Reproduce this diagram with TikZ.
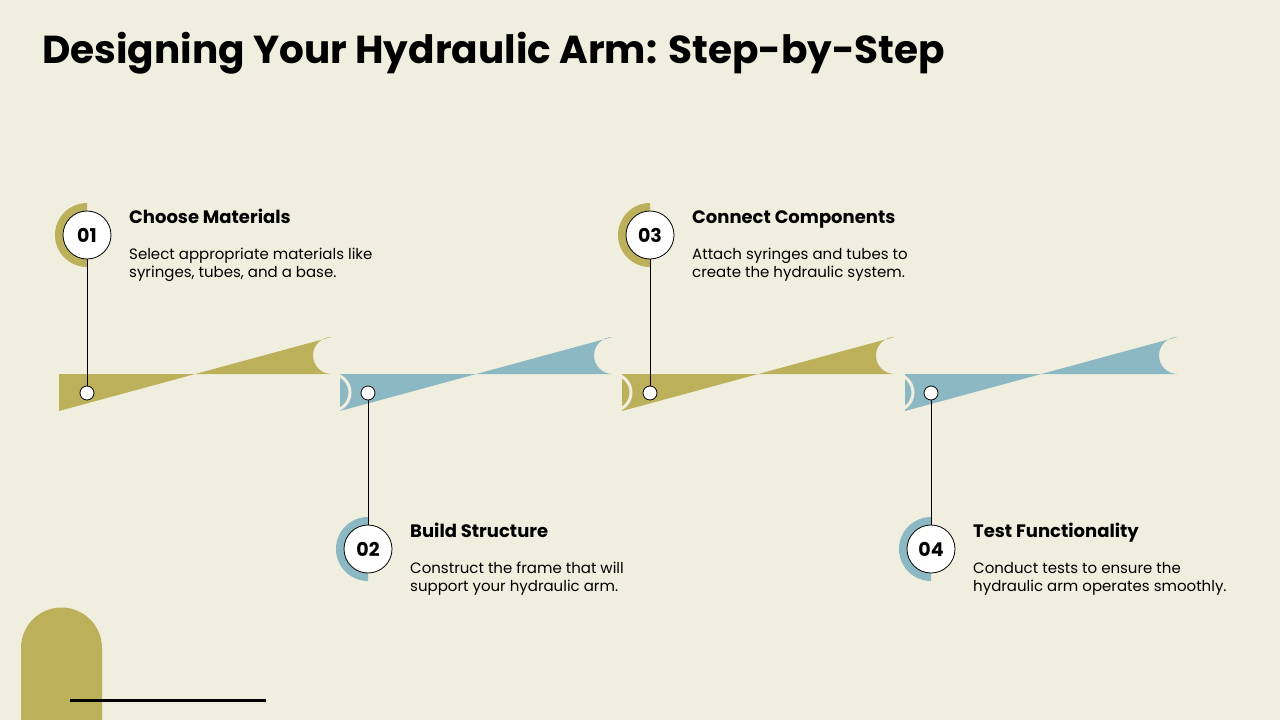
\documentclass[tikz,border=0pt]{standalone}
\usepackage{fontspec}
\setmainfont{Poppins}
\usetikzlibrary{calc, positioning}
\definecolor{cream}{HTML}{F0EEDF}
\definecolor{olive}{HTML}{BDB05B}
\definecolor{teal}{HTML}{8BB8C2}
\tikzset{
  dot/.style={circle, draw, fill=white, line width=0.8pt, minimum size=14pt, inner sep=0pt},
  badge/.style={circle, draw, fill=white, line width=0.8pt, minimum size=48pt, inner sep=0pt, font=\fontsize{19}{19}\selectfont\bfseries},
  heading/.style={anchor=base west, inner sep=0pt, font=\fontsize{18}{18}\selectfont\bfseries},
  blurb/.style={anchor=north west, inner sep=0pt, align=left, font=\fontsize{15}{18}\selectfont}
}
\begin{document}
\begin{tikzpicture}[x=1pt, y=-1pt]
      \fill[cream] (0,0) rectangle (1280,720);
      \useasboundingbox (0,0) rectangle (1280,720);
      \node[anchor=west, inner sep=0pt, font=\fontsize{39}{39}\selectfont\bfseries] (Title) at (42,53) {Designing Your Hydraulic Arm: Step-by-Step};

      % bar segments, drawn right to left so each rounded end overlaps the next
      \foreach \i/\xa/\col in {4/905/teal, 3/622/olive, 2/340/teal, 1/59/olive} {
        \fill[\col] (\xa,374) -- (\xa+272.5,374) arc (-90:90:-18.5) -- (\xa,411) -- cycle;
        \draw[cream, line width=3pt] (\xa+272.5,411) arc (90:-90:18.5);
      }

      \foreach \i/\x/\y/\col/\head/\lineA/\lineB in {
          1/87/235/olive/Choose Materials/Select appropriate materials like/{syringes, tubes, and a base.},
          2/368/549/teal/Build Structure/Construct the frame that will/support your hydraulic arm.,
          3/650/235/olive/Connect Components/Attach syringes and tubes to/create the hydraulic system.,
          4/931/549/teal/Test Functionality/Conduct tests to ensure the/hydraulic arm operates smoothly.} {
        \fill[\col] (\x,\y+32) arc (90:270:32) -- cycle;
        \node[dot] (Dot\i) at (\x,393) {};
        \node[badge] (Step\i) at (\x,\y) {0\i};
        \draw[line width=0.8pt] (Step\i) -- (Dot\i);
        \node[heading] (Head\i) at (\x+42,\y-12) {\head};
        \node[blurb] (Text\i) at (\x+42,\y+13) {\lineA\\\lineB};
      }

      \fill[olive] (21,720) -- (21,648) arc (180:360:40.5) -- (102,720) -- cycle;
      \draw[line width=3pt] (70,700) -- (266,700);
    \end{tikzpicture}
\end{document}
